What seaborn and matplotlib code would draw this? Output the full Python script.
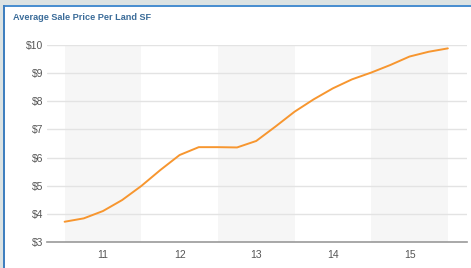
import matplotlib
matplotlib.use("Agg")
import matplotlib.pyplot as plt
import seaborn as sns
import pandas as pd
from matplotlib.patches import Rectangle

years = [10.5, 10.75, 11.0, 11.25, 11.5, 11.75, 12.0, 12.25, 12.5, 12.75, 13.0,
         13.25, 13.5, 13.75, 14.0, 14.25, 14.5, 14.75, 15.0, 15.25, 15.5]
price = [3.72, 3.84, 4.10, 4.49, 4.99, 5.56, 6.09, 6.37, 6.37, 6.36, 6.59,
         7.10, 7.63, 8.07, 8.46, 8.78, 9.02, 9.29, 9.59, 9.76, 9.88]
x_ticks = [11, 12, 13, 14, 15]
y_ticks = [3, 4, 5, 6, 7, 8, 9, 10]
y_labels = ["$3", "$4", "$5", "$6", "$7", "$8", "$9", "$10"]
title = "Average Sale Price Per Land SF"

df = pd.DataFrame({"year": years, "price": price})

sns.set_style("white")
plt.rcParams["font.family"] = ["Liberation Sans", "DejaVu Sans"]

fig = plt.figure(figsize=(4.71, 2.68), dpi=100)
fig.patch.set_facecolor("white")
W, H = 471, 268
# frame decorations
fig.add_artist(Rectangle((0, 1 - 5 / H), 1, 5 / H, transform=fig.transFigure,
                         facecolor="#dce3e3", edgecolor="none"))
fig.add_artist(Rectangle((0, 1 - 7 / H), 1, 2 / H, transform=fig.transFigure,
                         facecolor="#4a8fd0", edgecolor="none"))
fig.add_artist(Rectangle((0, 0), 3 / W, 1 - 5 / H, transform=fig.transFigure,
                         facecolor="#dce3e3", edgecolor="none"))
fig.add_artist(Rectangle((3 / W, 0), 1.5 / W, 1 - 5 / H, transform=fig.transFigure,
                         facecolor="#3f7fbf", edgecolor="none"))

ax = fig.add_axes([47 / W, 26 / H, (467 - 47) / W, (242 - 45) / H])

for c in [11, 13, 15]:
    ax.axvspan(c - 0.5, c + 0.5, color="#f6f6f6", zorder=0, lw=0)
for v in y_ticks[1:]:
    ax.axhline(v, color="#e3e3e3", lw=1, zorder=1)

sns.lineplot(data=df, x="year", y="price", ax=ax, color="#f7962f", lw=1.4, zorder=3)

ax.set_xlim(10.27, 15.75)
ax.set_ylim(3, 10)
ax.set_xticks(x_ticks)
ax.set_xticklabels([str(t) for t in x_ticks])
ax.set_yticks(y_ticks)
ax.set_yticklabels(y_labels)
ax.set_xlabel("")
ax.set_ylabel("")
for s in ["top", "right", "left"]:
    ax.spines[s].set_visible(False)
ax.spines["bottom"].set_color("#999999")
ax.spines["bottom"].set_linewidth(1.2)
ax.tick_params(axis="both", length=0, labelsize=7.5, labelcolor="#555555")
ax.tick_params(axis="y", pad=2.5)
ax.tick_params(axis="x", pad=6)
ax.set_facecolor("white")

fig.text(13 / W, 1 - 17 / H, title, fontsize=6.6, fontweight="bold",
         color="#3b6c99", ha="left", va="center")

fig.savefig("out.png", dpi=100)
